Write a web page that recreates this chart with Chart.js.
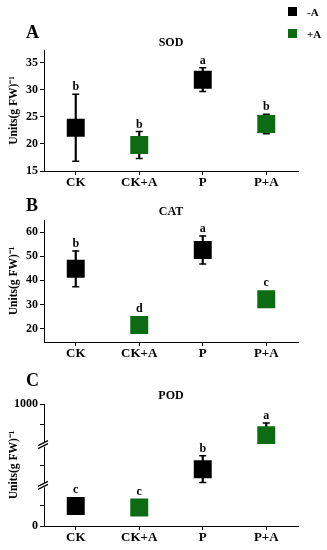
<!DOCTYPE html>
<html lang="en">
<head>
<meta charset="UTF-8">
<title>SOD / CAT / POD</title>
<script src="https://cdn.jsdelivr.net/npm/chart.js"></script>
<style>
  body { margin: 0; background: #fff; font-family: "Liberation Serif", serif; }
  #wrap { position: relative; width: 327px; height: 550px; overflow: hidden; }
  .panel { position: absolute; left: 0; width: 327px; }
  #legend { position: absolute; left: 288px; top: 6px; font: bold 11px "Liberation Serif", serif; }
  #legend div { height: 11px; margin-bottom: 11px; display: flex; align-items: center; }
  #legend i { display: inline-block; width: 9px; height: 9px; margin-right: 10px; }
</style>
</head>
<body>
<div id="wrap">
  <div class="panel" style="top:0px;height:192px"><canvas id="sod"></canvas></div>
  <div class="panel" style="top:182px;height:181px"><canvas id="cat"></canvas></div>
  <div class="panel" style="top:362px;height:185px"><canvas id="pod"></canvas></div>
  <div id="legend">
    <div><i style="background:#000"></i>-A</div>
    <div><i style="background:#0d6b12"></i>+A</div>
  </div>
</div>
<script>
// data
const categories = ['CK', 'CK+A', 'P', 'P+A'];
const markerColors = ['#000000', '#0d6b12', '#000000', '#0d6b12'];

const sodMean = [23.0, 19.8, 31.9, 23.7];
const sodErrUp = [6.2, 2.5, 2.2, 1.8];
const sodErrDown = [6.2, 2.5, 2.2, 1.8];
const sodLetters = ['b', 'b', 'a', 'b'];
const sodTicks = [15, 20, 25, 30, 35];

const catMean = [44.8, 21.5, 52.6, 32.2];
const catErrUp = [7.4, 1.5, 5.8, 1.5];
const catErrDown = [7.4, 1.5, 5.8, 1.5];
const catLetters = ['b', 'd', 'a', 'c'];
const catTicks = [20, 30, 40, 50, 60];

const podMean = [164, 151, 466, 745];
const podErrUp = [40, 40, 110, 99];
const podErrDown = [40, 40, 110, 40];
const podLetters = ['c', 'c', 'b', 'a'];
const podTicks = [0, 167, 500, 833, 1000];
const podTickLabels = ['0', '', '', '', '1000'];
const podBreaks = [333, 667];

const FONT = '"Liberation Serif", serif';
const BOX_HALF = 9;

// panel letter, title, significance letters, axis breaks
const panelText = {
  id: 'panelText',
  afterDatasetsDraw(chart, args, opts) {
    const ctx = chart.ctx, area = chart.chartArea;
    const xs = chart.scales.x, ys = chart.scales.y;
    ctx.save();
    ctx.fillStyle = '#000';
    ctx.textAlign = 'left';
    ctx.textBaseline = 'middle';
    ctx.font = 'bold 18px ' + FONT;
    ctx.fillText(opts.letter, 26, area.top + opts.letterDy);
    ctx.textAlign = 'center';
    ctx.font = 'bold 12px ' + FONT;
    ctx.fillText(opts.title, (area.left + area.right) / 2, area.top + opts.titleDy);
    ctx.textBaseline = 'bottom';
    opts.means.forEach((m, i) => {
      const x = xs.getPixelForValue(i);
      const top = Math.min(ys.getPixelForValue(m + opts.errs[i]), ys.getPixelForValue(m) - BOX_HALF);
      ctx.fillText(opts.sig[i], x, top - 1);
    });
    (opts.breaks || []).forEach(v => {
      const y = ys.getPixelForValue(v), x = area.left;
      ctx.fillStyle = '#fff';
      ctx.fillRect(x - 2, y - 2, 4, 4);
      ctx.strokeStyle = '#000';
      ctx.lineWidth = 1.2;
      ctx.beginPath();
      ctx.moveTo(x - 6, y + 1); ctx.lineTo(x + 4, y - 4);
      ctx.moveTo(x - 6, y + 4); ctx.lineTo(x + 4, y - 1);
      ctx.stroke();
    });
    ctx.restore();
  }
};

function makePanel(id, means, errUp, errDown, sig, ticks, range, text) {
  const labels = text.tickLabels;
  new Chart(document.getElementById(id), {
    type: 'bar',
    data: {
      labels: categories,
      datasets: [
        {
          type: 'line', data: means, showLine: false, pointStyle: 'rect', pointRadius: 12.7,
          pointBackgroundColor: markerColors, pointBorderColor: markerColors, pointBorderWidth: 0, order: 0
        },
        {
          type: 'line', data: means.map((m, i) => m + errUp[i]), showLine: false, pointStyle: 'line',
          pointRadius: 3.5, pointBorderColor: '#000', pointBorderWidth: 1.5, order: 1
        },
        {
          type: 'line', data: means.map((m, i) => m - errDown[i]), showLine: false, pointStyle: 'line',
          pointRadius: 3.5, pointBorderColor: '#000', pointBorderWidth: 1.5, order: 1
        },
        {
          type: 'bar', data: means.map((m, i) => [m - errDown[i], m + errUp[i]]),
          backgroundColor: '#000', barThickness: 1.5, order: 2
        }
      ]
    },
    options: {
      responsive: true,
      maintainAspectRatio: false,
      animation: false,
      layout: { padding: { top: text.padTop, bottom: 2, left: 0, right: 29 } },
      plugins: {
        legend: { display: false },
        tooltip: { enabled: false },
        panelText: {
          letter: text.letter, title: text.title, letterDy: text.letterDy, titleDy: text.titleDy,
          means: means, errs: errUp, sig: sig, breaks: text.breaks
        }
      },
      scales: {
        x: {
          offset: true,
          grid: { display: true, drawOnChartArea: false, offset: false, tickLength: 4, color: '#000' },
          border: { color: '#000', width: 1 },
          ticks: { color: '#000', font: { family: FONT, size: 13, weight: 'bold' }, padding: 0 },
          afterFit(s) { s.height = 19; }
        },
        y: {
          min: range[0], max: range[1],
          grid: { drawOnChartArea: false, tickLength: 4, color: '#000' },
          border: { color: '#000', width: 1 },
          ticks: {
            color: '#000', padding: 2, font: { family: FONT, size: 12, weight: 'bold' },
            callback: (v, i) => labels ? labels[i] : v
          },
          afterBuildTicks(s) { s.ticks = ticks.map(v => ({ value: v })); },
          title: {
            display: true, text: 'Units(g FW)⁻¹', color: '#000',
            font: { family: FONT, size: 11.5, weight: 'bold' }, padding: { top: 7, bottom: 0 }
          },
          afterFit(s) { s.width = 44; }
        }
      }
    },
    plugins: [panelText]
  });
}

makePanel('sod', sodMean, sodErrUp, sodErrDown, sodLetters, sodTicks, [15, 37.4],
  { letter: 'A', title: 'SOD', letterDy: -17, titleDy: -7, padTop: 50 });
makePanel('cat', catMean, catErrUp, catErrDown, catLetters, catTicks, [14.5, 65],
  { letter: 'B', title: 'CAT', letterDy: -14, titleDy: -8, padTop: 38 });
makePanel('pod', podMean, podErrUp, podErrDown, podLetters, podTicks, [0, 1000],
  { letter: 'C', title: 'POD', letterDy: -23, titleDy: -8, padTop: 42, tickLabels: podTickLabels, breaks: podBreaks });
</script>
</body>
</html>
